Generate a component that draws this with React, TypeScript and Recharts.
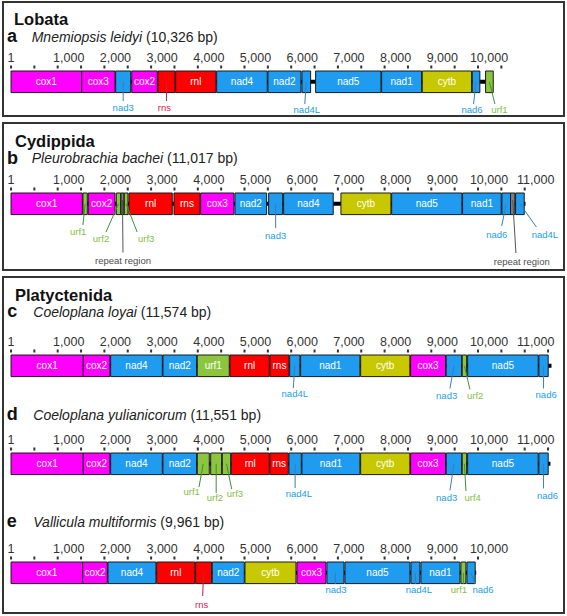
import React from "react";
import {
  ComposedChart,
  Scatter,
  XAxis,
  YAxis,
  ReferenceArea,
  ReferenceLine,
} from "recharts";

// a — Lobata, Mnemiopsis leidyi
const A_GENES = ["cox1", "cox3", "nad3", "cox2", "rns", "rnl", "nad4", "nad2", "nad4L", "nad5", "nad1", "cytb", "nad6", "urf1"];
const A_START = [1, 1514, 2241, 2585, 3147, 3526, 4404, 5502, 6230, 6523, 7936, 8806, 9877, 10162];
const A_END = [1514, 2227, 2563, 3133, 3511, 4389, 5487, 6209, 6416, 7922, 8793, 9863, 10040, 10326];

// b — Cydippida, Pleurobrachia bachei
const B_GENES = ["cox1", "urf1", "cox2", "urf2", "repeat region", "urf3", "rnl", "rns", "cox3", "nad2", "nad3", "nad4", "cytb", "nad5", "nad1", "nad6", "repeat region", "nad4L"];
const B_START = [1, 1541, 1655, 2255, 2355, 2426, 2526, 3490, 4061, 4796, 5517, 5838, 7065, 8151, 9670, 10512, 10697, 10805];
const B_END = [1527, 1634, 2227, 2349, 2419, 2505, 3453, 4046, 4774, 5474, 5817, 6900, 8136, 9655, 10497, 10697, 10790, 10990];

// c — Platyctenida, Coeloplana loyai
const C_GENES = ["cox1", "cox2", "nad4", "nad2", "urf1", "rnl", "rns", "nad4L", "nad1", "cytb", "cox3", "nad3", "urf2", "nad5", "nad6"];
const C_START = [1, 1548, 2134, 3254, 3989, 4689, 5545, 5967, 6202, 7487, 8557, 9320, 9662, 9778, 11304];
const C_END = [1548, 2119, 3240, 3975, 4674, 5530, 5952, 6187, 7472, 8541, 9305, 9650, 9757, 11289, 11503];

// d — Platyctenida, Coeloplana yulianicorum
const D_GENES = ["cox1", "cox2", "nad4", "nad2", "urf1", "urf2", "urf3", "rnl", "rns", "nad4L", "nad1", "cytb", "cox3", "nad3", "urf4", "nad5", "nad6"];
const D_START = [1, 1548, 2134, 3254, 3989, 4276, 4524, 4717, 5545, 5952, 6230, 7487, 8557, 9320, 9662, 9778, 11304];
const D_END = [1548, 2119, 3240, 3975, 4246, 4511, 4704, 5530, 5937, 6216, 7472, 8541, 9305, 9650, 9757, 11289, 11503];

// e — Platyctenida, Vallicula multiformis
const E_GENES = ["cox1", "cox2", "nad4", "rnl", "rns", "nad2", "cytb", "cox3", "nad3", "nad5", "nad4L", "nad1", "urf1", "nad6"];
const E_START = [1, 1535, 2077, 3119, 3954, 4310, 5010, 6123, 6765, 7151, 8564, 8778, 9634, 9763];
const E_END = [1535, 2062, 3104, 3939, 4296, 4995, 6102, 6744, 7130, 8543, 8757, 9613, 9741, 9940];

const LETTERS = ["a", "b", "c", "d", "e"];
const SPECIES = ["Mnemiopsis leidyi", "Pleurobrachia bachei", "Coeloplana loyai", "Coeloplana yulianicorum", "Vallicula multiformis"];
const GENOME_LENGTHS = [10326, 11017, 11574, 11551, 9961];
const RULER_ENDS = [10500, 11000, 11500, 11500, 10000];
const ORDERS = ["Lobata", "Cydippida", "Platyctenida"];

// layout (page px): label placement for genes named below the map
// gene index -> [label dx, label dy, line end dx, line end dy]
const CALLOUTS: Record<number, number[]>[] = [
  { 2: [0, 37, 0, 30], 4: [-2, 37, 0, 30], 8: [0.5, 39, -1.5, 33], 12: [-4, 39, -2.5, 33], 13: [10, 39, 5.5, 33] },
  {
    1: [-7, 39, -2.2, 32], 3: [-17.5, 45.5, -12.5, 39], 4: [0.5, 67.5, 0.5, 59.5], 5: [20, 45.5, 11, 39],
    10: [0, 42.5, 0, 35], 15: [-9.5, 41.5, -4.5, 33], 16: [9, 68.5, 3.2, 60], 17: [25, 41.5, 16.5, 34],
  },
  { 7: [0, 39, -1.5, 33], 11: [-7.3, 40.5, -4, 33.5], 12: [10.8, 40.5, 5.5, 34.5], 14: [2.6, 40, 0, 33.5] },
  {
    4: [-11.6, 39, -4.3, 34], 5: [-1.2, 45, 0, 40], 6: [8.5, 41, 5.2, 36], 9: [3.8, 40.7, 0, 35],
    13: [-7.3, 44.4, -4, 37.5], 14: [8.2, 44.4, 1.5, 38], 16: [4, 42.4, 0, 35.5],
  },
  { 4: [-2, 42.3, -1, 34], 8: [0.5, 27.5, 0, 22], 10: [3.5, 27.5, 0, 22], 12: [-4.5, 27.5, 0, 22], 13: [12, 27.5, 4, 22] },
];
const BOX_TOPS = [71, 192.7, 355, 453.3, 561.7];

const W = 567;
const H = 616;
const M_LEFT = 11;
const M_RIGHT = 0;
const PX_PER_BP = 0.0467;
const X_MAX = (W - M_LEFT - M_RIGHT) / PX_PER_BP;
const AXIS_H = 24;
const PLOT_H = 76;
const BOX_H = 21.6;
const BOX_MID = 10.8;
const FONT = 'Arial, "Liberation Sans", Helvetica, sans-serif';

const FILL: Record<string, string> = {
  cox: "#ff00ff",
  nad: "#1f9bef",
  rrna: "#ff0000",
  cytb: "#c8c800",
  urf: "#8cc63f",
  repeat: "#7f7f7f",
};
const TEXT: Record<string, string> = {
  nad: "#22a0e6",
  urf: "#84be43",
  rrna: "#e0174a",
  repeat: "#4d4d4d",
  cox: "#ff00ff",
  cytb: "#a0a000",
};
const LINE: Record<string, string> = {
  nad: "#3b7fae",
  urf: "#3f8f3a",
  rrna: "#c02040",
  repeat: "#555555",
  cox: "#aa00aa",
  cytb: "#808000",
};

function kind(name?: string) {
  const n = name || "";
  if (n.startsWith("cox")) return "cox";
  if (n.startsWith("nad")) return "nad";
  if (n.startsWith("rn")) return "rrna";
  if (n.startsWith("cytb")) return "cytb";
  if (n.startsWith("urf")) return "urf";
  return "repeat";
}

function RulerTick(props: any) {
  const { x, y, payload } = props;
  const v = payload.value;
  const labelled = v === 1 || v % 1000 === 0;
  return (
    <g>
      <rect x={x - 1} y={y - 5.5} width={2} height={3} fill="#333" />
      {labelled && (
        <text
          x={v === 1 ? x : x + 11}
          y={y - 9.5}
          textAnchor="middle"
          fontSize={12.5}
          fill="#333"
        >
          {v === 1 ? "1" : v.toLocaleString("en-US")}
        </text>
      )}
    </g>
  );
}

function CalloutText(props: any) {
  const { cx, cy, payload } = props;
  return (
    <text x={cx} y={cy} dy="0.35em" textAnchor="middle" fontSize={9.5} fill={TEXT[kind(payload.name)]}>
      {payload.name}
    </text>
  );
}

function GenomeTrack({
  names,
  starts,
  ends,
  length,
  rulerEnd,
  callouts,
  top,
}: {
  names: string[];
  starts: number[];
  ends: number[];
  length: number;
  rulerEnd: number;
  callouts: Record<number, number[]>;
  top: number;
}) {
  const ticks = [1];
  for (let v = 500; v <= rulerEnd; v += 500) ticks.push(v);
  const mid = (i: number) => (starts[i] + ends[i]) / 2;
  const idx = Object.keys(callouts)
    .map(Number)
    .filter((i) => i < names.length);
  const labels = idx.map((i) => ({
    name: names[i],
    x: mid(i) + callouts[i][0] / PX_PER_BP,
    y: callouts[i][1],
  }));

  return (
    <div style={{ position: "absolute", left: 0, top: top - AXIS_H }}>
      <ComposedChart
        width={W}
        height={AXIS_H + PLOT_H}
        data={labels}
        margin={{ top: 0, left: M_LEFT, right: M_RIGHT, bottom: 0 }}
      >
        <XAxis
          dataKey="x"
          type="number"
          domain={[0, X_MAX]}
          allowDataOverflow
          ticks={ticks}
          interval={0}
          orientation="top"
          height={AXIS_H}
          tickSize={0}
          tickMargin={0}
          axisLine={false}
          tickLine={false}
          tick={<RulerTick />}
        />
        <YAxis dataKey="y" type="number" domain={[0, PLOT_H]} reversed hide allowDataOverflow />
        <ReferenceArea
          x1={1}
          x2={length}
          y1={BOX_MID - 2}
          y2={BOX_MID + 2}
          fill="#000"
          fillOpacity={1}
          stroke="none"
        />
        {names.map((n, i) => (
          <ReferenceArea
            key={"g" + i}
            x1={starts[i]}
            x2={ends[i]}
            y1={0}
            y2={BOX_H}
            fill={FILL[kind(n)]}
            fillOpacity={1}
            stroke="#1a1a1a"
            strokeWidth={1}
            label={
              callouts[i]
                ? undefined
                : { value: n, position: "center", fill: "#ffffff", fontSize: 10 }
            }
          />
        ))}
        {idx.map((i) => {
          const c = callouts[i];
          return (
            <ReferenceLine
              key={"l" + i}
              segment={[
                { x: mid(i), y: kind(names[i]) === "repeat" ? 7 : BOX_MID },
                { x: mid(i) + c[2] / PX_PER_BP, y: c[3] },
              ]}
              stroke={LINE[kind(names[i])]}
              strokeWidth={1}
            />
          );
        })}
        <Scatter dataKey="y" isAnimationActive={false} shape={<CalloutText />} />
      </ComposedChart>
    </div>
  );
}

const TRACKS = [
  { names: A_GENES, starts: A_START, ends: A_END },
  { names: B_GENES, starts: B_START, ends: B_END },
  { names: C_GENES, starts: C_START, ends: C_END },
  { names: D_GENES, starts: D_START, ends: D_END },
  { names: E_GENES, starts: E_START, ends: E_END },
];

// headings: [x, baseline]
const ORDER_POS = [[14, 25], [15, 146.7], [15, 300.7]];
const LETTER_POS = [[7, 42.3], [7, 164], [7.3, 316.7], [6.7, 420], [6.7, 526.7]];
const SPECIES_POS = [[31.7, 41.7], [31.7, 163.3], [33.3, 317.3], [33.3, 420], [33.3, 526.7]];
const PANELS = [[3, 2, 561, 114], [3, 123, 561, 147], [3, 277, 561, 336]];

export default function App() {
  return (
    <div
      style={{
        position: "absolute",
        left: 0,
        top: 0,
        width: W,
        height: H,
        background: "#fff",
        overflow: "hidden",
        fontFamily: FONT,
      }}
    >
      <svg width={W} height={H} style={{ position: "absolute", left: 0, top: 0 }}>
        {PANELS.map((p, i) => (
          <rect key={i} x={p[0]} y={p[1]} width={p[2]} height={p[3]} fill="none" stroke="#333" strokeWidth={2} />
        ))}
        {ORDERS.map((o, i) => (
          <text key={o} x={ORDER_POS[i][0]} y={ORDER_POS[i][1]} fontSize={16.5} fontWeight="bold" fill="#111">
            {o}
          </text>
        ))}
        {LETTERS.map((l, i) => (
          <text key={l} x={LETTER_POS[i][0]} y={LETTER_POS[i][1]} fontSize={18} fontWeight="bold" fill="#111">
            {l}
          </text>
        ))}
        {SPECIES.map((s, i) => (
          <text key={s} x={SPECIES_POS[i][0]} y={SPECIES_POS[i][1]} fontSize={14} fill="#222">
            <tspan fontStyle="italic">{s}</tspan>
            {" (" + GENOME_LENGTHS[i].toLocaleString("en-US") + " bp)"}
          </text>
        ))}
      </svg>
      {TRACKS.map((t, i) => (
        <GenomeTrack
          key={i}
          names={t.names}
          starts={t.starts}
          ends={t.ends}
          length={GENOME_LENGTHS[i]}
          rulerEnd={RULER_ENDS[i]}
          callouts={CALLOUTS[i]}
          top={BOX_TOPS[i]}
        />
      ))}
    </div>
  );
}
